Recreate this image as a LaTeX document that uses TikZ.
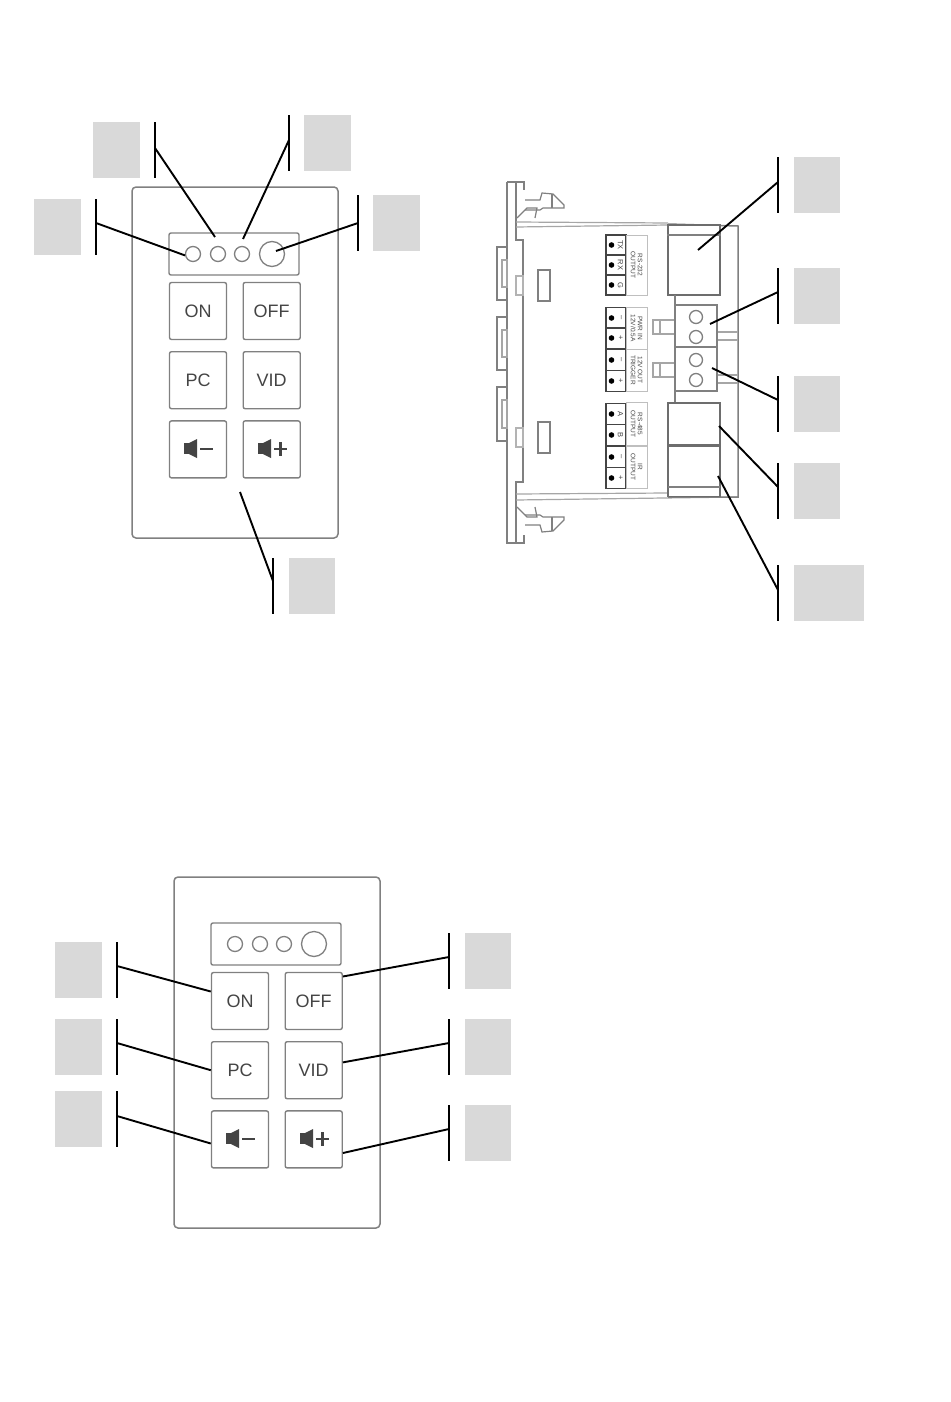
\documentclass[tikz,border=0pt]{standalone}
\usepackage{fontspec}
\setmainfont{Liberation Sans}
\usetikzlibrary{positioning}
\definecolor{tagfill}{HTML}{D9D9D9}
\definecolor{edge}{HTML}{808080}
\definecolor{ink}{HTML}{444444}

\tikzset{
  tag/.style = {rectangle, fill=tagfill, inner sep=0pt, minimum height=56pt},
  bar/.style = {rectangle, fill=black, inner sep=0pt, minimum width=2pt, minimum height=56pt},
  lead/.style = {draw=black, line width=1.9pt},
  key/.style = {rectangle, draw=edge, line width=1.4pt, rounded corners=2pt, inner sep=0pt, minimum width=57pt, minimum height=57pt, text=ink, font=\fontsize{18}{18}\selectfont},
  led/.style = {circle, draw=edge, line width=1.3pt, inner sep=0pt, minimum size=15pt},
  wire/.style = {draw=edge, line width=1.2pt},
  cell/.style = {rectangle, draw=ink, line width=1.1pt, inner sep=0pt, minimum width=20pt, text=ink},
  caption/.style = {rectangle, draw=edge!50, line width=0.6pt, inner sep=0pt, minimum width=21pt, text=ink, align=center, rotate=-90, font=\fontsize{6.5}{7}\selectfont},
  keypad/.pic = {
    \draw[wire, line width=1.5pt, rounded corners=4pt] (132,187) rectangle (338,538);
    \draw[wire, line width=1.4pt, rounded corners=2pt] (169,233) rectangle (299,275);
    \node[led] (led1) at (193,254) {};
    \node[led] (led2) at (218,254) {};
    \node[led] (led3) at (242,254) {};
    \node[led, minimum size=25pt] (led4) at (272,254) {};
    \node[key] (on) at (198,311) {ON};
    \node[key, right=15.3pt of on] (off) {OFF};
    \node[key, below=10.8pt of on] (pc) {PC};
    \node[key, right=15.3pt of pc] (vid) {VID};
    \node[key, below=10.8pt of pc] (down) {};
    \node[key, right=15.3pt of down] (up) {};
    % speaker icons
    \fill[ink] (184,443) rectangle (189,454);
    \fill[ink] (189,443) -- (197,439) -- (197,458) -- (189,454) -- cycle;
    \draw[ink, line width=2.6pt] (200,449) -- (213,449);
    \fill[ink] (258,443) rectangle (263,454);
    \fill[ink] (263,443) -- (271,439) -- (271,458) -- (263,454) -- cycle;
    \draw[ink, line width=2.6pt] (274,449) -- (287,449) (280.5,442) -- (280.5,456);
  },
  latch/.pic = {
    \draw[wire] (0,0) -- (15,0) -- (17,-7) -- (28,-6) -- (39,5) -- (39,8) -- (18,8) -- (15,10) -- (0,10);
    \draw[wire] (-8,18) -- (2,8) -- (12,8) -- (10,18);
    \draw[wire] (27,-6) -- (27,8);
  }
}

\begin{document}
\begin{tikzpicture}[x=1pt, y=-1pt]
  \useasboundingbox (0,0) rectangle (950,1402);

  % Keypads
  \pic (top) at (0,0) {keypad};
  \pic (low) at (42,690) {keypad};

  % Side view
  \draw[wire] (507,182) -- (524,182) -- (524,190);
  \draw[wire] (507,182) -- (507,543) -- (524,543) -- (524,535);
  \draw[wire] (516,182) -- (516,240) -- (523,240) -- (523,482) -- (516,482) -- (516,543);
  \foreach \ya/\yb in {247/300, 317/370, 387/441} {
    \draw[wire] (507,\ya) -- (497,\ya) -- (497,\yb) -- (507,\yb);
    \draw[wire, draw=edge!70] (502,\ya+13) rectangle (507,\yb-13);
  }
  \pic at (525,200) {latch};
  \pic[yscale=-1] at (525,525) {latch};
  \draw[wire, draw=edge!70] (516,222) -- (668,223) (516,227) -- (668,225);
  \draw[wire, draw=edge!70] (516,494) -- (668,493) (516,500) -- (738,497);
  \draw[wire, line width=1.5pt] (668,224) -- (738,226) -- (738,497) -- (668,497);
  \foreach \ya in {270, 422} {
    \draw[wire] (538,\ya) rectangle (550,\ya+31);
    \draw[wire, draw=edge!60] (516,\ya+6) rectangle (523,\ya+25);
  }

  % Connectors
  \node[draw=edge!85!black, line width=1.2pt, fill=white, inner sep=0pt, minimum width=52pt, minimum height=70pt] (rsbox) at (694,260) {};
  \draw[wire] (rsbox.west |- 0,235) -- (rsbox.east |- 0,235);
  \draw[wire] (675,295) -- (675,403) (675,391) -- (675,403);
  \foreach \yc in {320, 363} {
    \draw[wire, draw=edge!70] (653,\yc) rectangle (675,\yc+14);
    \draw[wire, draw=edge!70] (660,\yc) -- (660,\yc+14);
    \draw[wire, draw=edge!70] (717,\yc+12) -- (738,\yc+12) (717,\yc+20) -- (738,\yc+20);
  }
  \node[draw=edge, line width=1.2pt, fill=white, inner sep=0pt, minimum width=42pt, minimum height=42pt] (pwrblock) at (696,326) {};
  \node[draw=edge, line width=1.2pt, fill=white, inner sep=0pt, minimum width=42pt, minimum height=44pt] (trigblock) at (696,369) {};
  \node[led, minimum size=13pt] (pwra) at (696,317) {};
  \node[led, minimum size=13pt] (pwrb) at (696,337) {};
  \node[led, minimum size=13pt] (triga) at (696,360) {};
  \node[led, minimum size=13pt] (trigb) at (696,380) {};
  \node[draw=edge!85!black, line width=1.2pt, inner sep=0pt, minimum width=52pt, minimum height=42pt] (rsjack) at (694,424) {};
  \node[draw=edge!85!black, line width=1.2pt, inner sep=0pt, minimum width=52pt, below=0pt of rsjack, minimum height=50pt] (irjack) {};
  \draw[wire] (668,487) -- (720,487);

  % Terminal labels
  \foreach \n/\yc/\txt/\h in {
    a/245/TX/20, b/265/RX/20, c/285/G/20,
    d/318/--/21, e/338/+/21, f/360/--/21, g/381/+/21,
    h/414/A/21, i/435/B/21, j/457/--/21, k/478/+/21} {
    \node[cell, minimum height=\h pt] (cell\n) at (616,\yc) {};
    \fill[black] (611.5,\yc) circle (2.8pt);
    \node[text=ink, rotate=-90, inner sep=0pt, font=\fontsize{7.5}{8}\selectfont] (mark\n) at (620.5,\yc) {\txt};
  }
  \node[caption, minimum height=21pt, minimum width=60pt] (rs232) at (636.5,265) {RS-232\\OUTPUT};
  \node[caption, minimum height=21pt, minimum width=42pt] (pwrin) at (636.5,328) {PWR IN\\12V/0.5A};
  \node[caption, minimum height=21pt, minimum width=42pt] (trig) at (636.5,370) {12V OUT\\TRIGGER};
  \node[caption, minimum height=21pt, minimum width=43pt] (rs485) at (636.5,424) {RS-485\\OUTPUT};
  \node[caption, minimum height=21pt, minimum width=42pt] (ir) at (636.5,467) {IR\\OUTPUT};

  % Tags
  \foreach \n/\cx/\cy/\w/\bx in {
    a/116.5/150/47/155, b/327.5/143/47/289, c/57.5/227/47/96, d/396.5/223/47/358, e/312/586/46/273,
    f/817/185/46/778, g/817/296/46/778, h/817/404/46/778, i/817/491/46/778, j/829/593/70/778,
    k/78.5/970/47/117, l/78.5/1047/47/117, m/78.5/1119/47/117,
    n/488/961/46/449, o/488/1047/46/449, p/488/1133/46/449} {
    \node[tag, minimum width=\w pt] (tag\n) at (\cx,\cy) {};
    \node[bar] (bar\n) at (\bx,\cy) {};
  }

  % Leaders
  \coordinate (enda) at (215,237);
  \coordinate (endb) at (243,239);
  \coordinate (endd) at (276,251);
  \coordinate (ende) at (240,492);
  \coordinate (endf) at (698,250);
  \coordinate (endg) at (710,324);
  \coordinate (endh) at (712,368);
  \coordinate (endi) at (719,426);
  \coordinate (endj) at (718,476);
  \draw[lead] ([yshift=2pt]bara.center) -- (enda);
  \draw[lead] ([yshift=3pt]barb.center) -- (endb);
  \draw[lead] ([yshift=4pt]barc.center) -- (topled1.190);
  \draw[lead] (bard.center) -- (endd);
  \draw[lead] ([yshift=5pt]bare.center) -- (ende);
  \draw[lead] ([yshift=3pt]barf.center) -- (endf);
  \draw[lead] ([yshift=4pt]barg.center) -- (endg);
  \draw[lead] ([yshift=4pt]barh.center) -- (endh);
  \draw[lead] ([yshift=4pt]bari.center) -- (endi);
  \draw[lead] ([yshift=3pt]barj.center) -- (endj);
  \draw[lead] ([yshift=4pt]bark.center) -- (lowon.162);
  \draw[lead] ([yshift=4pt]barl.center) -- (lowpc.west);
  \draw[lead] ([yshift=3pt]barm.center) -- (lowdown.188);
  \draw[lead] ([yshift=4pt]barn.center) -- (lowoff.40);
  \draw[lead] ([yshift=4pt]baro.center) -- (lowvid.15);
  \draw[lead] ([yshift=4pt]barp.center) -- (lowup.335);
\end{tikzpicture}
\end{document}
